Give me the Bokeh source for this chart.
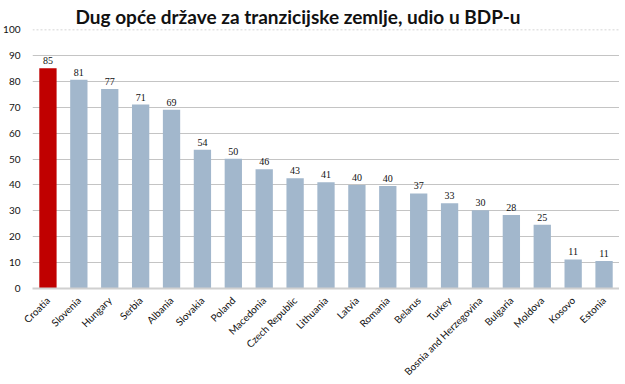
from bokeh.plotting import figure
from bokeh.models import ColumnDataSource, Span, LabelSet, FixedTicker, Range1d
from bokeh.embed import file_html
from bokeh.resources import INLINE
import math

countries = ["Croatia", "Slovenia", "Hungary", "Serbia", "Albania", "Slovakia", "Poland",
             "Macedonia", "Czech Republic", "Lithuania", "Latvia", "Romania", "Belarus",
             "Turkey", "Bosnia and Herzegovina", "Bulgaria", "Moldova", "Kosovo", "Estonia"]
values = [85.0, 80.6, 77.0, 71.0, 69.0, 53.6, 50.1, 46.0, 42.6, 41.0, 40.0, 39.6, 36.7,
          32.9, 30.2, 28.4, 24.6, 11.2, 10.6]
labels = ["85", "81", "77", "71", "69", "54", "50", "46", "43", "41", "40", "40", "37",
          "33", "30", "28", "25", "11", "11"]
colors = ["#c00000"] + ["#a2b7cc"] * (len(countries) - 1)
y_ticks = [0, 10, 20, 30, 40, 50, 60, 70, 80, 90, 100]

src = ColumnDataSource(dict(x=countries, y=values, lab=labels, c=colors))

p = figure(x_range=countries, y_range=Range1d(0, 100), frame_width=587, frame_height=259,
           output_backend="svg", toolbar_location=None,
           title="Dug opće države za tranzicijske zemlje, udio u BDP-u",
           min_border_left=22, min_border_right=0, min_border_top=2, min_border_bottom=0)
p.title.align = "left"
p.title.offset = 43
p.title.text_font = "Lato"
p.title.text_font_style = "bold"
p.title.text_font_size = "19px"
p.title.text_color = "#111111"
p.title.standoff = 4

p.vbar(x="x", top="y", width=0.56, fill_color="c", line_color=None, source=src)

labs = LabelSet(x="x", y="y", text="lab", source=src, text_align="center",
                text_baseline="bottom", y_offset=4, text_font_size="10px",
                text_font="Lato", text_color="#111111")
p.add_layout(labs)

p.outline_line_color = None
p.x_range.range_padding = 0.0
p.xgrid.grid_line_color = None
p.ygrid.ticker = FixedTicker(ticks=y_ticks[1:-1])
p.ygrid.grid_line_color = "#c4c4c4"
p.ygrid.grid_line_width = 1

p.add_layout(Span(location=y_ticks[-1], dimension="width", line_color="#c8c8c8",
                  line_dash="2 2", line_width=1.5))

p.yaxis.ticker = FixedTicker(ticks=y_ticks)
p.yaxis.axis_line_color = None
p.yaxis.major_tick_line_color = None
p.yaxis.minor_tick_line_color = None
p.yaxis.major_label_text_font = "Lato"
p.yaxis.major_label_text_font_size = "10px"
p.yaxis.major_label_text_color = "#111111"
p.yaxis.major_label_standoff = 6

p.xaxis.axis_line_color = "#d0d0d0"
p.xaxis.axis_line_width = 2
p.xaxis.major_tick_line_color = None
p.xaxis.minor_tick_line_color = None
p.xaxis.major_label_orientation = math.pi / 4
p.xaxis.major_label_text_font = "Lato"
p.xaxis.major_label_text_font_size = "10px"
p.xaxis.major_label_text_color = "#111111"
p.xaxis.major_label_standoff = 4

open("out.html", "w").write(file_html(p, INLINE))
